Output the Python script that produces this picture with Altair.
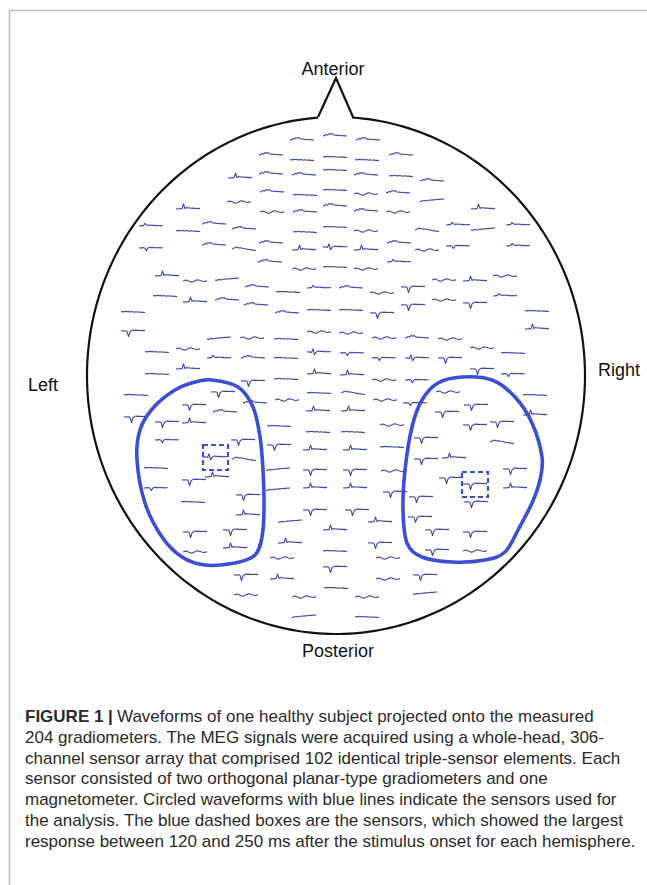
import altair as alt
import numpy as np
import pandas as pd

W, H = 647, 885

# ---- sensor layout (figure pixel space) and trace type per sensor ----
SENSOR_X = [
    302, 335, 368,
    271, 401,
    302, 335, 367,
    240, 271, 304, 335, 366, 401, 432,
    272, 305, 335, 366, 398,
    239, 432,
    188, 272, 305, 335, 366, 398, 483,
    151, 188, 214, 244, 305, 335, 366, 427, 458, 483, 518,
    151, 214, 244, 271, 304, 335, 366, 399, 427, 458, 518,
    270, 399, 304, 335, 366,
    167, 195, 227, 444, 475, 505,
    257, 288, 319, 351, 382, 413,
    165, 195, 227, 256, 413, 444, 475, 505,
    133, 287, 319, 351, 382, 537,
    133, 319, 351, 537,
    219, 252, 286, 384, 417, 450,
    157, 188, 482, 513,
    219, 253, 286, 319, 352, 384, 417, 450,
    157, 188, 482, 513,
    253, 286, 319, 352, 384, 417,
    136, 223, 319, 353, 448, 535,
    255, 287, 385, 415,
    194, 476,
    136, 225, 318, 353, 447, 535,
    167, 194, 279, 392, 475, 502,
    318, 353,
    167, 243, 279, 392, 426, 502,
    315, 355,
    215, 244, 426, 454,
    156, 278, 315, 355, 393, 515,
    194, 217, 451, 475,
    156, 278, 315, 355, 395, 515,
    248, 421,
    193, 476,
    315, 357,
    248, 420,
    290, 335, 380,
    195, 235, 437, 475,
    290, 380,
    195, 235, 335, 437, 475,
    282, 388,
    335,
    246, 282, 388, 425,
    336,
    246, 304, 367, 425,
    304, 367,
]
SENSOR_Y = [
    140, 136, 140,
    155, 155,
    160, 157, 160,
    178, 174, 175, 170, 175, 176, 181,
    192, 195, 190, 194, 193,
    202, 201,
    209, 212, 212, 206, 211, 212, 209,
    226, 231, 224, 229, 232, 227, 231, 230, 225, 230, 225,
    248, 245, 249, 243, 250, 247, 250, 243, 250, 246, 246,
    262, 262, 269, 267, 269,
    276, 281, 280, 280, 281, 276,
    287, 292, 288, 288, 293, 287,
    296, 302, 300, 305, 305, 300, 303, 296,
    312, 313, 310, 310, 313, 311,
    331, 332, 333, 329,
    339, 338, 339, 338, 338, 339,
    352, 349, 348, 353,
    358, 358, 358, 352, 353, 358, 358, 358,
    374, 369, 369, 374,
    381, 379, 374, 375, 380, 380,
    395, 392, 393, 393, 392, 395,
    403, 400, 400, 403,
    405, 405,
    417, 412, 411, 411, 412, 415,
    422, 423, 426, 425, 425, 422,
    432, 432,
    440, 440, 445, 447, 438, 442,
    450, 450,
    457, 459, 459, 458,
    468, 470, 470, 470, 471, 469,
    480, 477, 478, 484,
    488, 490, 488, 488, 492, 488,
    495, 497,
    502, 502,
    510, 510,
    515, 517,
    522, 530, 522,
    532, 530, 530, 532,
    543, 543,
    552, 548, 551, 550, 551,
    558, 558,
    567,
    575, 579, 579, 575,
    588,
    595, 597, 597, 594,
    617, 617,
]
SENSOR_TRACE = list(
    "HHH" "HH" "FFF" "UHHFHFH" "HFFWH" "WR" "UWHHHWU"
    "PFHHFFWLPRP" "NHLHUBUHWNP" "HPWFW" "UWRWUW" "HFPHWD"
    "FUHHDWDP" "FHFFDF" "DWWU" "RWFWHW" "FWWF" "PHFBNNBD"
    "FUDN" "DFUUWN" "FDFLWF" "HWWN" "DD" "DHUUDU" "DUFWDD"
    "FF" "NDDFDL" "UU" "BLDU" "FRDDWD" "DUDD" "NRUUDU"
    "DD" "FD" "DD" "UD" "RUU" "DDDD" "UD" "WUFDW" "WW" "D"
    "DUWD" "F" "WWWR" "RF"
)

# ---- trace shapes (px, positive = up), 17 samples over 24 px ----
TRACE_FLAT = [0, 0.5, 0.1, 0.8, 0.3, 0.6, 0.0, 0.4, 0.2, -0.2, 0.3, 0.0, -0.3, 0.1, -0.4, -0.2, -0.5]
TRACE_HUMP = [0, 0.4, 1.5, 0.9, 2.4, 1.8, 2.6, 1.2, 0.8, 1.0, 0.5, 0.7, 0.3, 0.5, 0.1, 0.3, 0.0]
TRACE_UP = [0, 0.3, 0.0, 0.4, 0.2, 5.0, 0.4, 1.6, 1.0, 1.3, 0.7, 1.0, 0.6, 0.8, 0.4, 0.6, 0.4]
TRACE_DOWN = [0, 0.3, 0.0, 0.2, -0.3, -5.5, -1.0, 0.4, 0.9, 0.6, 0.9, 0.5, 0.7, 0.5, 0.6, 0.4, 0.6]
TRACE_WAVE = [0, 0.6, 0.9, 0.4, -0.3, -0.9, -1.2, -0.5, 0.3, 0.9, 1.3, 0.8, 0.2, -0.3, -0.5, -0.1, 0.3]
TRACE_BI = [0, 0.2, 0.0, -0.6, 3.2, -2.8, -0.4, 0.6, 1.0, 0.6, 0.8, 0.4, 0.6, 0.2, 0.5, 0.3, 0.4]
TRACE_FALL = [0, 0.6, 1.4, 2.0, 1.3, 1.1, 1.3, 0.7, 0.5, 0.2, -0.2, -0.4, -0.7, -0.9, -1.1, -1.3, -1.6]
TRACE_NOTCH = [0, 0.3, 0.1, 0.4, -0.2, -2.6, 0.0, 0.7, 0.4, 0.6, 0.3, 0.5, 0.2, 0.4, 0.1, 0.3, 0.2]
TRACE_BUMP = [0, 0.1, 0.4, 0.2, 2.6, 1.2, 0.6, 1.0, 0.7, 0.9, 0.4, 0.6, 0.3, 0.5, 0.2, 0.4, 0.3]
TRACE_RISE = [0, -0.4, 0.2, 0.6, 0.1, 0.5, 1.0, 0.7, 1.3, 0.9, 1.5, 1.2, 1.8, 1.4, 2.0, 1.7, 2.2]
TRACE_BY_CODE = {
    "F": TRACE_FLAT, "H": TRACE_HUMP, "U": TRACE_UP, "D": TRACE_DOWN,
    "W": TRACE_WAVE, "B": TRACE_BI, "L": TRACE_FALL, "N": TRACE_NOTCH,
    "P": TRACE_BUMP, "R": TRACE_RISE,
}
TRACE_WIDTH = 24

# ---- head outline ----
HEAD_CX, HEAD_CY, HEAD_RX, HEAD_RY = 336, 375.5, 249, 258.5
NOSE_X = [318, 336, 353]
NOSE_Y = [117, 78, 117]

# ---- regions of interest (closed loops) ----
LEFT_LOOP_X = [212, 238, 253, 260, 263, 264, 262, 255, 235, 205, 182, 162, 145, 137, 140, 153, 175, 195]
LEFT_LOOP_Y = [380, 387, 407, 437, 470, 510, 537, 555, 563, 565, 557, 537, 503, 460, 430, 408, 390, 382]
RIGHT_LOOP_X = [462, 492, 515, 532, 542, 540, 532, 518, 505, 485, 452, 422, 407, 403, 405, 412, 422, 438]
RIGHT_LOOP_Y = [377, 380, 397, 423, 457, 480, 503, 530, 552, 560, 562, 557, 543, 510, 470, 427, 400, 383]

# largest-response sensors (dashed boxes)
BOX_X1 = [203, 462]
BOX_X2 = [228, 488]
BOX_Y1 = [445, 472]
BOX_Y2 = [470, 497]

# ---- orientation labels ----
LABEL_TEXT = ["Anterior", "Left", "Right", "Posterior"]
LABEL_X = [333, 43, 619, 338]
LABEL_Y = [70, 386, 371, 652]

# ---- caption ----
CAPTION_BOLD = "FIGURE 1 |"
CAPTION_LINES = [
    "Waveforms of one healthy subject projected onto the measured",
    "204 gradiometers. The MEG signals were acquired using a whole-head, 306-",
    "channel sensor array that comprised 102 identical triple-sensor elements. Each",
    "sensor consisted of two orthogonal planar-type gradiometers and one",
    "magnetometer. Circled waveforms with blue lines indicate the sensors used for",
    "the analysis. The blue dashed boxes are the sensors, which showed the largest",
    "response between 120 and 250 ms after the stimulus onset for each hemisphere.",
]
CAPTION_X = 25
CAPTION_TOP = 717
CAPTION_STEP = 20.8

FONT = "Liberation Sans"
TRACE_COLOR = "#3a48b4"
LOOP_COLOR = "#3b4fd6"

# shared pixel-space scales
X = lambda f="x": alt.X(f"{f}:Q", scale=alt.Scale(domain=[0, W], nice=False, zero=False), axis=None)
Y = lambda f="y": alt.Y(f"{f}:Q", scale=alt.Scale(domain=[0, H], nice=False, zero=False, reverse=True), axis=None)

# traces table
trace_rows = []
for i, (sx, sy, code) in enumerate(zip(SENSOR_X, SENSOR_Y, SENSOR_TRACE)):
    shape = TRACE_BY_CODE[code]
    n = len(shape)
    for k, v in enumerate(shape):
        trace_rows.append({"sensor": i, "k": k,
                           "x": sx - TRACE_WIDTH / 2 + k * TRACE_WIDTH / (n - 1),
                           "y": sy - v})
traces_df = pd.DataFrame(trace_rows)

traces = alt.Chart(traces_df).mark_line(
    color=TRACE_COLOR, strokeWidth=1.1, strokeJoin="round"
).encode(x=X(), y=Y(), detail="sensor:N", order="k:Q")

# head: nose + ellipse arc
t0 = np.arcsin((NOSE_X[2] - HEAD_CX) / HEAD_RX)
t1 = 2 * np.pi - np.arcsin((HEAD_CX - NOSE_X[0]) / HEAD_RX)
tt = np.linspace(t0, t1, 300)
hx = [NOSE_X[0], NOSE_X[1], NOSE_X[2]] + list(HEAD_CX + HEAD_RX * np.sin(tt))
hy = [NOSE_Y[0], NOSE_Y[1], NOSE_Y[2]] + list(HEAD_CY - HEAD_RY * np.cos(tt))
head_df = pd.DataFrame({"x": hx, "y": hy, "k": range(len(hx))})
head = alt.Chart(head_df).mark_line(color="#111111", strokeWidth=2.2).encode(
    x=X(), y=Y(), order="k:Q")

# loops
loop_df = pd.concat([
    pd.DataFrame({"x": LEFT_LOOP_X, "y": LEFT_LOOP_Y, "k": range(len(LEFT_LOOP_X)), "side": "L"}),
    pd.DataFrame({"x": RIGHT_LOOP_X, "y": RIGHT_LOOP_Y, "k": range(len(RIGHT_LOOP_X)), "side": "R"}),
])
loops = alt.Chart(loop_df).mark_line(
    color=LOOP_COLOR, strokeWidth=3.6, interpolate="cardinal-closed"
).encode(x=X(), y=Y(), detail="side:N", order="k:Q")

box_df = pd.DataFrame({"x": BOX_X1, "x2": BOX_X2, "y": BOX_Y1, "y2": BOX_Y2})
boxes = alt.Chart(box_df).mark_rect(
    fill=None, fillOpacity=0, stroke=LOOP_COLOR, strokeWidth=2.2, strokeDash=[5, 3]
).encode(x=X(), x2="x2:Q", y=Y(), y2="y2:Q")

labels_df = pd.DataFrame({"text": LABEL_TEXT, "x": LABEL_X, "y": LABEL_Y})
labels = alt.Chart(labels_df).mark_text(
    font=FONT, fontSize=18, color="#111111", align="center", baseline="middle"
).encode(x=X(), y=Y(), text="text:N")

# frame
frame_df = pd.DataFrame({"x": [9, 9.5], "x2": [W, 9.5], "y": [10.5, 10], "y2": [10.5, H]})
frame = alt.Chart(frame_df).mark_rule(color="#c2c2c2", strokeWidth=1.6).encode(
    x=X(), x2="x2:Q", y=Y(), y2="y2:Q")

cap_df = pd.DataFrame({
    "text": CAPTION_LINES,
    "x": [CAPTION_X + 92] + [CAPTION_X] * (len(CAPTION_LINES) - 1),
    "y": [CAPTION_TOP + i * CAPTION_STEP for i in range(len(CAPTION_LINES))],
})
caption = alt.Chart(cap_df).mark_text(
    font=FONT, fontSize=17, color="#2a2a2a", align="left", baseline="middle"
).encode(x=X(), y=Y(), text="text:N")
bold_df = pd.DataFrame({"text": [CAPTION_BOLD], "x": [CAPTION_X], "y": [CAPTION_TOP]})
caption_bold = alt.Chart(bold_df).mark_text(
    font=FONT, fontSize=17, fontWeight="bold", color="#2a2a2a", align="left", baseline="middle"
).encode(x=X(), y=Y(), text="text:N")

chart = alt.layer(
    frame, traces, head, loops, boxes, labels, caption, caption_bold
).properties(
    width=W, height=H, padding=0, autosize="none", background="white"
).configure_view(stroke=None)

chart.save("out.html", embed_options={"renderer": "svg", "actions": False})
